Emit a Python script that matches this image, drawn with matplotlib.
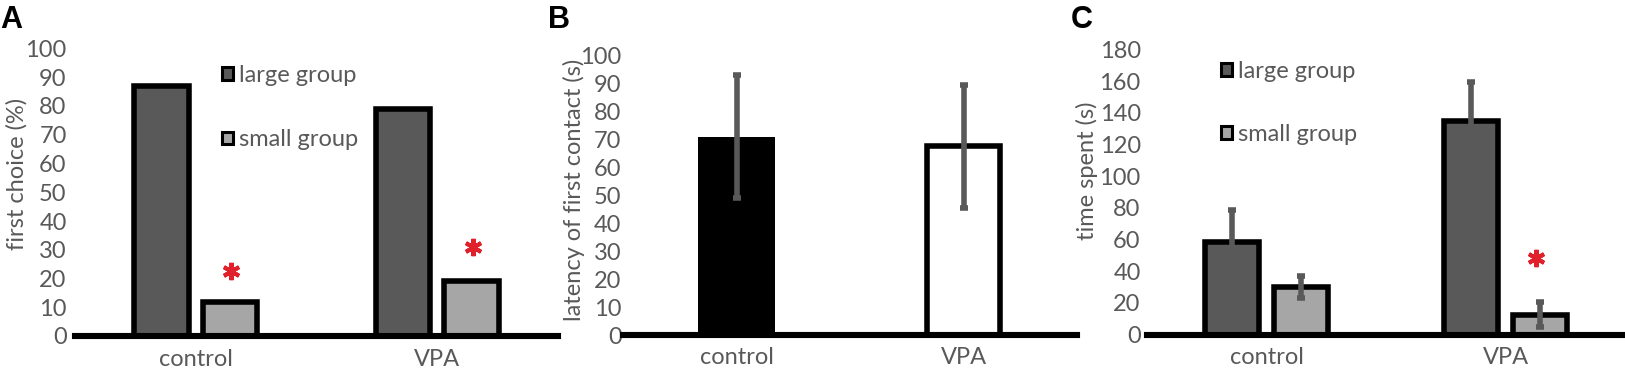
import matplotlib
matplotlib.use("Agg")
import matplotlib.pyplot as plt
from matplotlib.patches import Patch

# ---------------- data ----------------
groups = ["control", "VPA"]
series_labels = ["large group", "small group"]

# Panel A: first choice (%)
a_large = [87, 79]
a_small = [12, 19]
a_star_y = [22.7, 30.8]          # asterisk heights over small-group bars
a_yticks = list(range(0, 101, 10))

# Panel B: latency of first contact (s)
b_vals = [71, 67.5]
b_err = [22, 22]
b_yticks = list(range(0, 101, 10))

# Panel C: time spent (s)
c_large = [58.5, 135]
c_large_err = [20, 24.5]
c_small = [30, 12.5]
c_small_err = [7, 8]
c_star_y = [None, 48.5]
c_yticks = list(range(0, 181, 20))

# ---------------- style ----------------
W, H = 1625, 373
FONT = "Lato"
GREY_TXT = "#595959"
DARK = "#595959"
LIGHT = "#a6a6a6"
ERRC = "#595959"
RED = "#e0202a"
EDGE_LW = 4.0
FS = 17

plt.rcParams["font.family"] = [FONT, "DejaVu Sans"]

fig = plt.figure(figsize=(W / 100, H / 100), dpi=100)


def px_axes(left, right, y0, ytop):
    return fig.add_axes([left / W, (H - y0) / H, (right - left) / W, (y0 - ytop) / H])


def style(ax, yticks, ypad):
    for s in ["left", "right", "top"]:
        ax.spines[s].set_visible(False)
    ax.spines["bottom"].set_linewidth(4.4)
    ax.spines["bottom"].set_color("black")
    ax.spines["bottom"].set_zorder(5)
    ax.set_xlim(-0.5, 1.5)
    ax.set_ylim(yticks[0], yticks[-1])
    ax.set_yticks(yticks)
    ax.set_xticks([0, 1])
    ax.set_xticklabels(groups)
    ax.tick_params(axis="both", length=0, labelsize=FS, colors=GREY_TXT)
    ax.tick_params(axis="y", pad=ypad)
    ax.tick_params(axis="x", pad=9)
    ax.patch.set_visible(False)


x = [0, 1]

# ---------------- Panel A ----------------
axA = px_axes(75, 558, 336, 48.5)
offA, wA = 0.1425, 0.225
axA.bar([i - offA for i in x], a_large, width=wA, color=DARK, edgecolor="black",
        linewidth=EDGE_LW, zorder=3)
axA.bar([i + offA for i in x], a_small, width=wA, color=LIGHT, edgecolor="black",
        linewidth=EDGE_LW, zorder=3)
axA.plot([i + offA + 0.005 for i in x], a_star_y, linestyle="none", marker=(6, 2, 0),
         markersize=12.5, markeredgewidth=2.9, color=RED, zorder=4)
style(axA, a_yticks, 6)
axA.set_ylabel("first choice (%)", fontsize=FS, color=GREY_TXT, va="center")
axA.yaxis.set_label_coords(-0.120, 0.565)
hA = [Patch(facecolor=DARK, edgecolor="black", linewidth=2.2, label=series_labels[0]),
      Patch(facecolor=LIGHT, edgecolor="black", linewidth=2.2, label=series_labels[1])]
axA.legend(handles=hA, loc="upper left", bbox_to_anchor=(0.305, 0.942),
           frameon=False, fontsize=FS, handlelength=0.45, handleheight=0.45,
           handletextpad=0.25, labelspacing=1.83, borderpad=0, borderaxespad=0,
           labelcolor=GREY_TXT)

# ---------------- Panel B ----------------
axB = px_axes(623, 1077, 335, 55.5)
wB = 0.32
axB.bar(x[0], b_vals[0], width=wB + 0.02, color="black", edgecolor="black",
        linewidth=0, zorder=3)
axB.bar(x[1], b_vals[1], width=wB, color="white", edgecolor="black",
        linewidth=EDGE_LW, zorder=3)
axB.errorbar(x, b_vals, yerr=b_err, fmt="none", ecolor=ERRC, elinewidth=4,
             capsize=2.9, capthick=4, zorder=4)
style(axB, b_yticks, 1)
axB.set_ylabel("latency of first contact (s)", fontsize=FS, color=GREY_TXT, va="center")
axB.yaxis.set_label_coords(-0.108, 0.519)

# ---------------- Panel C ----------------
axC = px_axes(1147, 1625, 334.5, 49.6)
offC, wC = 0.1445, 0.224
axC.bar([i - offC for i in x], c_large, width=wC, color=DARK, edgecolor="black",
        linewidth=EDGE_LW, zorder=3)
axC.bar([i + offC for i in x], c_small, width=wC, color=LIGHT, edgecolor="black",
        linewidth=EDGE_LW, zorder=3)
axC.errorbar([i - offC for i in x], c_large, yerr=c_large_err, fmt="none", ecolor=ERRC,
             elinewidth=4, capsize=2.9, capthick=4, zorder=4)
axC.errorbar([i + offC for i in x], c_small, yerr=c_small_err, fmt="none", ecolor=ERRC,
             elinewidth=4, capsize=2.9, capthick=4, zorder=4)
sx = [i + offC - 0.015 for i, v in zip(x, c_star_y) if v is not None]
sy = [v for v in c_star_y if v is not None]
axC.plot(sx, sy, linestyle="none", marker=(6, 2, 0), markersize=12.5,
         markeredgewidth=2.9, color=RED, zorder=4)
style(axC, c_yticks, 4.5)
axC.set_ylabel("time spent (s)", fontsize=FS, color=GREY_TXT, va="center")
axC.yaxis.set_label_coords(-0.126, 0.574)
hC = [Patch(facecolor=DARK, edgecolor="black", linewidth=2.2, label=series_labels[0]),
      Patch(facecolor=LIGHT, edgecolor="black", linewidth=2.2, label=series_labels[1])]
axC.legend(handles=hC, loc="upper left", bbox_to_anchor=(0.155, 0.96),
           frameon=False, fontsize=FS, handlelength=0.45, handleheight=0.45,
           handletextpad=0.25, labelspacing=1.77, borderpad=0, borderaxespad=0,
           labelcolor=GREY_TXT)

# ---------------- panel letters ----------------
for lab, px in [("A", 0), ("B", 548), ("C", 1071)]:
    fig.text(px / W, 1 - 5 / H, lab, ha="left", va="top", fontsize=22,
             fontweight="bold", family=["Liberation Sans", "DejaVu Sans"], color="black")

fig.savefig("out.png", dpi=100)
